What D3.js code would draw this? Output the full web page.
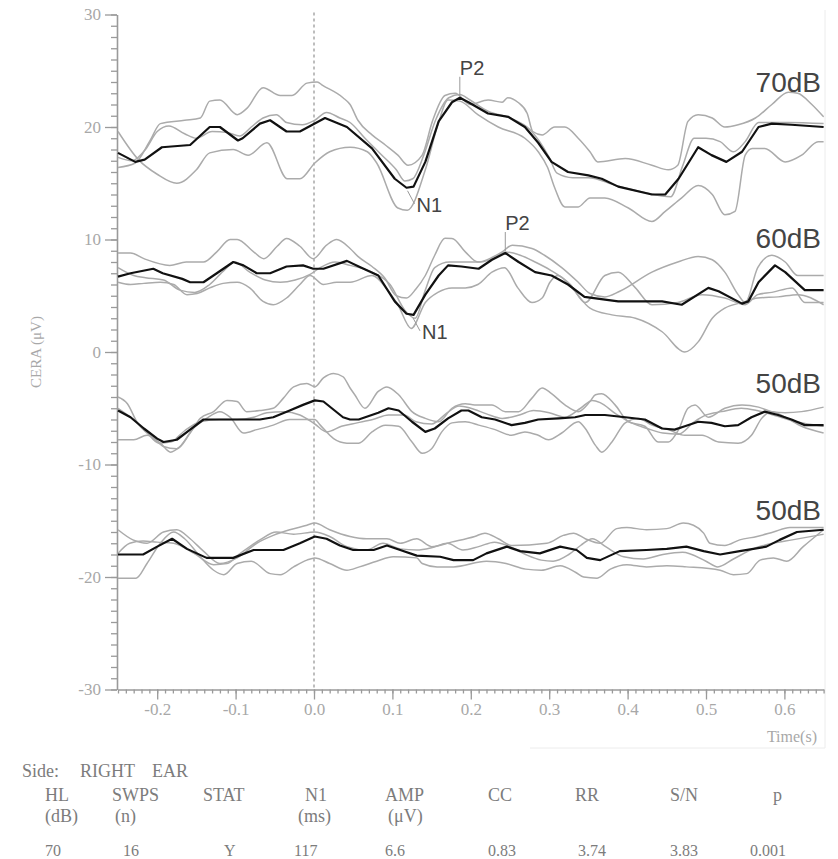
<!DOCTYPE html>
<html>
<head>
<meta charset="utf-8">
<script src="https://cdn.jsdelivr.net/npm/d3@7"></script>
<style>
  body { margin: 0; background: #fff; }
  svg { display: block; }
  .tick text { font-family: "Liberation Serif", serif; font-size: 17px; fill: #a8a8a8; }
  .axis path, .axis line { stroke: #9a9a9a; stroke-width: 1.3; }
  .axis .domain { stroke-width: 1.6; }
  .rep { fill: none; stroke: #ababab; stroke-width: 1.5; }
  .avg { fill: none; stroke: #111; stroke-width: 2.2; stroke-linejoin: round; }
  .level { font-family: "Liberation Sans", Arial, sans-serif; font-size: 28px; fill: #444; }
  .peak { font-family: "Liberation Sans", Arial, sans-serif; font-size: 20px; fill: #444; }
  .lead { stroke: #999; stroke-width: 1; }
  .tbl { font-family: "Liberation Serif", serif; font-size: 18px; fill: #7c7c7c; }
  .val { font-size: 16px; }
</style>
</head>
<body>
<script>
// ---- data (time in s, amplitude in uV) ----
const xTicks = [-0.2, -0.1, 0.0, 0.1, 0.2, 0.3, 0.4, 0.5, 0.6];
const yTicks = [-30, -20, -10, 0, 10, 20, 30];
const levels = ["70dB", "60dB", "50dB", "50dB"];

// 70 dB
const avg70 = [[-0.25,17.7],[-0.228,16.9],[-0.216,17.1],[-0.194,18.2],[-0.158,18.4],[-0.133,20.0],[-0.120,20.0],[-0.097,18.8],[-0.091,19.0],[-0.069,20.3],[-0.056,20.6],[-0.035,19.6],[-0.018,19.6],[0.014,20.8],[0.042,20.0],[0.074,18.1],[0.103,15.4],[0.118,14.6],[0.127,14.7],[0.142,16.9],[0.159,20.5],[0.176,22.2],[0.186,22.6],[0.197,22.2],[0.222,21.2],[0.248,20.9],[0.269,20.0],[0.286,18.6],[0.303,16.9],[0.324,16.0],[0.350,15.7],[0.367,15.4],[0.388,14.7],[0.431,14.0],[0.448,14.0],[0.465,15.4],[0.490,18.2],[0.507,17.5],[0.526,16.9],[0.546,17.8],[0.567,20.0],[0.584,20.3],[0.609,20.2],[0.650,20.0]];
const rep70a = [[-0.25,16.4],[-0.228,16.8],[-0.209,18.8],[-0.196,20.3],[-0.165,20.6],[-0.145,20.8],[-0.133,22.3],[-0.120,22.4],[-0.098,21.1],[-0.085,21.7],[-0.065,23.5],[-0.043,22.8],[-0.028,22.8],[-0.009,23.9],[0.004,24.0],[0.011,23.7],[0.037,22.6],[0.046,22.0],[0.056,20.6],[0.074,19.3],[0.091,18.4],[0.107,17.5],[0.120,16.6],[0.138,17.5],[0.151,20.5],[0.167,22.8],[0.180,23.0],[0.199,22.0],[0.222,22.4],[0.240,22.2],[0.247,22.6],[0.260,22.2],[0.272,21.2],[0.279,19.6],[0.291,19.3],[0.307,20.0],[0.320,20.0],[0.337,19.0],[0.352,17.8],[0.362,16.9],[0.397,17.2],[0.431,16.6],[0.452,16.2],[0.464,16.6],[0.477,20.5],[0.490,21.1],[0.508,20.8],[0.524,20.0],[0.541,20.2],[0.563,20.8],[0.584,22.0],[0.605,23.1],[0.617,23.0],[0.635,22.0],[0.650,20.9]];
const rep70b = [[-0.25,19.6],[-0.224,17.1],[-0.200,15.8],[-0.175,15.0],[-0.150,16.2],[-0.133,17.7],[-0.103,18.0],[-0.084,17.5],[-0.060,18.6],[-0.034,15.4],[-0.018,15.4],[0.001,16.8],[0.020,17.8],[0.046,18.2],[0.068,17.8],[0.080,16.8],[0.107,12.8],[0.119,12.6],[0.142,16.2],[0.158,20.2],[0.171,22.4],[0.186,22.3],[0.209,21.1],[0.235,20.0],[0.269,19.0],[0.286,17.8],[0.298,16.4],[0.307,14.6],[0.320,12.9],[0.337,12.9],[0.352,13.7],[0.371,13.7],[0.401,12.8],[0.431,11.6],[0.448,12.5],[0.469,13.7],[0.490,14.8],[0.508,14.0],[0.524,12.2],[0.537,12.5],[0.550,17.5],[0.559,18.1],[0.575,18.1],[0.601,16.9],[0.622,17.5],[0.643,18.7],[0.650,18.7]];
const rep70c = [[-0.25,17.3],[-0.232,17.0],[-0.215,18.0],[-0.200,19.6],[-0.185,20.1],[-0.165,19.4],[-0.150,19.0],[-0.130,19.6],[-0.110,19.5],[-0.095,19.2],[-0.080,20.0],[-0.065,20.8],[-0.048,21.1],[-0.035,20.4],[-0.015,20.2],[0.001,20.6],[0.016,21.3],[0.033,20.8],[0.046,20.4],[0.065,19.0],[0.085,17.6],[0.105,16.2],[0.116,15.2],[0.126,15.4],[0.140,17.5],[0.155,20.6],[0.172,22.6],[0.186,22.9],[0.199,22.4],[0.222,21.4],[0.250,20.8],[0.275,19.8],[0.300,17.3],[0.310,15.9],[0.330,15.5],[0.350,15.5],[0.385,14.8],[0.420,14.2],[0.455,13.8],[0.470,16.5],[0.485,19.0],[0.500,19.0],[0.518,18.7],[0.535,17.8],[0.550,18.7],[0.567,20.4],[0.605,20.4],[0.650,20.3]];

// 60 dB
const avg60 = [[-0.25,6.7],[-0.234,7.0],[-0.205,7.4],[-0.193,7.0],[-0.168,6.5],[-0.158,6.2],[-0.141,6.2],[-0.124,7.0],[-0.103,8.0],[-0.090,7.7],[-0.073,7.0],[-0.056,7.0],[-0.035,7.6],[-0.014,7.7],[-0.001,7.4],[0.012,7.4],[0.042,8.1],[0.057,7.6],[0.082,6.8],[0.103,4.5],[0.118,3.4],[0.127,3.3],[0.142,5.1],[0.159,6.8],[0.171,7.7],[0.188,7.6],[0.210,7.4],[0.227,8.2],[0.244,8.8],[0.261,8.0],[0.282,7.1],[0.303,6.8],[0.324,6.0],[0.345,4.9],[0.388,4.5],[0.444,4.5],[0.469,4.2],[0.503,5.7],[0.516,5.4],[0.546,4.3],[0.554,4.5],[0.567,6.2],[0.588,7.7],[0.601,7.1],[0.626,5.5],[0.650,5.5]];
const rep60a = [[-0.25,8.8],[-0.234,8.8],[-0.217,8.3],[-0.184,7.7],[-0.163,8.0],[-0.141,8.0],[-0.124,8.9],[-0.107,10.0],[-0.098,10.0],[-0.077,8.9],[-0.064,8.3],[-0.047,9.4],[-0.035,10.1],[-0.018,9.4],[-0.001,8.3],[0.016,9.5],[0.029,10.0],[0.046,9.2],[0.056,8.5],[0.074,7.6],[0.090,6.6],[0.105,5.0],[0.118,4.8],[0.130,5.6],[0.142,6.8],[0.154,8.6],[0.167,10.1],[0.176,10.1],[0.193,8.9],[0.209,8.0],[0.227,8.4],[0.240,8.9],[0.253,9.5],[0.278,9.2],[0.294,8.6],[0.316,7.5],[0.337,6.2],[0.352,5.2],[0.371,4.9],[0.390,5.4],[0.431,7.1],[0.464,8.0],[0.490,8.5],[0.508,8.2],[0.524,7.1],[0.541,5.1],[0.550,4.4],[0.566,7.5],[0.584,8.6],[0.601,8.0],[0.617,6.8],[0.650,6.8]];
const rep60b = [[-0.25,6.2],[-0.234,6.0],[-0.217,6.1],[-0.196,6.2],[-0.179,6.0],[-0.162,5.1],[-0.149,5.2],[-0.133,5.7],[-0.116,6.1],[-0.098,6.2],[-0.082,5.7],[-0.065,4.5],[-0.052,4.2],[-0.035,4.8],[-0.018,6.0],[-0.005,6.8],[0.012,6.0],[0.029,6.2],[0.046,6.2],[0.074,6.8],[0.094,5.5],[0.107,4.2],[0.124,2.1],[0.142,4.4],[0.158,5.3],[0.176,5.7],[0.193,5.7],[0.209,6.0],[0.227,7.1],[0.243,7.5],[0.260,5.7],[0.278,4.4],[0.291,4.8],[0.301,6.2],[0.311,6.8],[0.329,5.7],[0.352,3.9],[0.380,3.3],[0.410,3.0],[0.444,1.8],[0.473,0.0],[0.490,0.9],[0.508,3.0],[0.524,3.9],[0.546,4.4],[0.566,4.8],[0.592,4.9],[0.617,5.1],[0.650,4.2]];
const rep60c = [[-0.25,7.5],[-0.230,6.8],[-0.215,6.6],[-0.192,6.4],[-0.171,5.5],[-0.152,5.3],[-0.133,6.0],[-0.114,7.3],[-0.101,8.0],[-0.082,7.1],[-0.062,6.4],[-0.043,6.2],[-0.024,6.4],[-0.005,6.9],[0.008,7.5],[0.027,8.0],[0.046,7.7],[0.074,7.1],[0.097,6.0],[0.116,3.7],[0.129,3.0],[0.142,5.5],[0.154,7.5],[0.173,8.0],[0.212,8.0],[0.231,8.4],[0.244,8.9],[0.263,8.6],[0.282,8.0],[0.301,7.3],[0.327,6.0],[0.346,4.4],[0.371,6.8],[0.388,7.1],[0.410,5.7],[0.431,4.2],[0.464,4.4],[0.495,5.1],[0.524,4.8],[0.550,4.2],[0.566,5.1],[0.584,5.3],[0.610,5.7],[0.626,4.4],[0.650,4.4]];

// 50 dB (upper trace set)
const avg50a = [[-0.25,-5.2],[-0.234,-5.8],[-0.217,-6.8],[-0.200,-7.7],[-0.192,-8.0],[-0.175,-7.8],[-0.158,-6.9],[-0.141,-6.0],[-0.124,-6.0],[-0.103,-6.0],[-0.069,-6.0],[-0.052,-5.8],[-0.031,-5.2],[-0.014,-4.7],[0.001,-4.3],[0.012,-4.4],[0.037,-5.8],[0.046,-6.0],[0.057,-6.0],[0.082,-5.4],[0.095,-5.0],[0.108,-5.2],[0.125,-6.2],[0.142,-7.1],[0.154,-6.8],[0.171,-5.9],[0.188,-5.2],[0.197,-5.2],[0.214,-5.8],[0.231,-6.0],[0.252,-6.5],[0.269,-6.3],[0.286,-6.0],[0.312,-5.9],[0.333,-5.8],[0.346,-5.6],[0.371,-5.6],[0.397,-5.8],[0.422,-6.0],[0.444,-6.8],[0.460,-6.9],[0.473,-6.6],[0.490,-6.2],[0.507,-6.3],[0.524,-6.6],[0.541,-6.5],[0.558,-5.8],[0.575,-5.3],[0.592,-5.6],[0.609,-6.0],[0.626,-6.5],[0.650,-6.5]];
const rep50a1 = [[-0.25,-4.0],[-0.238,-4.6],[-0.226,-6.2],[-0.204,-7.7],[-0.192,-8.4],[-0.175,-8.6],[-0.158,-7.2],[-0.145,-5.9],[-0.128,-5.3],[-0.111,-4.3],[-0.098,-4.4],[-0.086,-5.3],[-0.069,-5.2],[-0.052,-5.0],[-0.039,-4.1],[-0.026,-3.1],[-0.009,-2.8],[0.001,-3.1],[0.012,-2.3],[0.025,-1.9],[0.037,-2.2],[0.046,-3.2],[0.052,-3.8],[0.065,-5.0],[0.082,-3.5],[0.093,-3.1],[0.108,-3.8],[0.125,-5.3],[0.142,-5.9],[0.159,-6.2],[0.176,-5.0],[0.193,-4.6],[0.205,-4.7],[0.227,-4.7],[0.244,-5.3],[0.261,-5.3],[0.278,-4.1],[0.291,-3.2],[0.303,-3.7],[0.320,-4.7],[0.337,-5.3],[0.352,-4.4],[0.359,-3.8],[0.367,-3.7],[0.384,-4.7],[0.401,-6.2],[0.422,-6.6],[0.439,-8.0],[0.452,-8.0],[0.465,-6.9],[0.477,-5.0],[0.486,-4.7],[0.503,-5.8],[0.524,-5.0],[0.546,-4.7],[0.567,-4.9],[0.584,-5.3],[0.601,-5.4],[0.622,-5.3],[0.650,-4.9]];
const rep50a2 = [[-0.25,-7.8],[-0.230,-7.8],[-0.213,-7.4],[-0.196,-8.1],[-0.183,-8.9],[-0.171,-8.4],[-0.154,-6.8],[-0.137,-5.9],[-0.120,-5.3],[-0.107,-5.8],[-0.090,-7.2],[-0.073,-6.9],[-0.052,-6.5],[-0.031,-6.0],[0.001,-6.0],[0.008,-6.5],[0.025,-7.7],[0.042,-8.1],[0.057,-8.1],[0.074,-7.1],[0.091,-6.5],[0.108,-6.6],[0.125,-8.0],[0.138,-9.0],[0.150,-8.6],[0.163,-7.1],[0.176,-6.3],[0.193,-6.2],[0.210,-6.5],[0.231,-6.9],[0.252,-7.4],[0.269,-7.1],[0.286,-7.4],[0.299,-7.8],[0.316,-7.2],[0.337,-6.2],[0.346,-6.8],[0.359,-8.3],[0.367,-8.9],[0.380,-8.0],[0.397,-6.3],[0.414,-5.9],[0.431,-6.5],[0.452,-6.9],[0.473,-7.4],[0.495,-7.4],[0.516,-8.0],[0.541,-8.1],[0.558,-7.4],[0.571,-5.9],[0.584,-5.3],[0.601,-5.8],[0.622,-6.6],[0.650,-7.2]];
const rep50a3 = [[-0.25,-5.0],[-0.234,-5.8],[-0.215,-7.0],[-0.198,-8.1],[-0.183,-8.0],[-0.165,-7.0],[-0.145,-6.2],[-0.120,-6.0],[-0.098,-6.0],[-0.077,-5.8],[-0.060,-5.4],[-0.039,-5.3],[-0.018,-5.6],[0.001,-6.4],[0.016,-7.1],[0.035,-6.6],[0.055,-6.3],[0.075,-6.0],[0.095,-5.6],[0.115,-5.6],[0.130,-6.2],[0.150,-6.4],[0.170,-5.4],[0.185,-4.8],[0.200,-5.0],[0.220,-5.5],[0.240,-5.9],[0.262,-5.6],[0.280,-5.2],[0.300,-5.4],[0.320,-5.8],[0.340,-5.0],[0.355,-4.3],[0.365,-4.5],[0.385,-5.5],[0.405,-6.3],[0.425,-6.8],[0.445,-7.2],[0.465,-7.3],[0.485,-6.2],[0.500,-5.6],[0.520,-5.3],[0.545,-5.0],[0.565,-5.2],[0.590,-5.7],[0.615,-6.2],[0.650,-6.6]];

// 50 dB (lower trace set)
const avg50b = [[-0.25,-18.0],[-0.218,-18.0],[-0.200,-17.3],[-0.181,-16.6],[-0.162,-17.5],[-0.137,-18.3],[-0.103,-18.3],[-0.077,-17.6],[-0.039,-17.6],[-0.018,-17.0],[0.001,-16.4],[0.016,-16.6],[0.033,-17.2],[0.050,-17.6],[0.076,-17.6],[0.093,-17.2],[0.110,-17.6],[0.131,-18.1],[0.161,-18.2],[0.178,-18.5],[0.203,-18.5],[0.220,-17.9],[0.246,-17.3],[0.263,-17.7],[0.288,-17.9],[0.314,-17.3],[0.335,-17.6],[0.348,-18.3],[0.365,-18.5],[0.390,-17.7],[0.424,-17.6],[0.450,-17.5],[0.475,-17.3],[0.497,-17.7],[0.518,-18.0],[0.543,-17.7],[0.577,-17.3],[0.594,-16.7],[0.616,-16.0],[0.650,-15.8]];
const rep50b1 = [[-0.25,-15.8],[-0.231,-16.7],[-0.213,-17.0],[-0.192,-16.0],[-0.175,-15.8],[-0.158,-16.6],[-0.141,-17.7],[-0.120,-18.8],[-0.098,-18.3],[-0.073,-17.0],[-0.052,-16.3],[-0.031,-15.8],[-0.009,-15.4],[0.001,-15.2],[0.020,-15.8],[0.046,-16.4],[0.067,-16.6],[0.093,-16.6],[0.110,-17.0],[0.131,-16.6],[0.150,-17.3],[0.175,-16.9],[0.205,-16.4],[0.218,-16.1],[0.235,-16.6],[0.252,-17.2],[0.297,-17.0],[0.318,-16.3],[0.331,-16.1],[0.346,-16.6],[0.365,-17.0],[0.386,-15.7],[0.399,-15.6],[0.424,-15.8],[0.450,-15.7],[0.471,-15.2],[0.484,-15.4],[0.497,-16.1],[0.505,-17.0],[0.524,-17.2],[0.543,-16.7],[0.565,-16.4],[0.586,-16.0],[0.607,-15.6],[0.650,-15.6]];
const rep50b2 = [[-0.25,-20.1],[-0.227,-20.1],[-0.213,-18.8],[-0.196,-17.0],[-0.179,-16.0],[-0.165,-16.6],[-0.145,-18.2],[-0.128,-19.4],[-0.115,-19.8],[-0.098,-18.8],[-0.080,-18.6],[-0.056,-19.7],[-0.043,-19.8],[-0.026,-19.1],[-0.009,-18.5],[0.001,-18.3],[0.020,-18.8],[0.042,-19.4],[0.058,-19.1],[0.080,-18.6],[0.101,-18.2],[0.131,-18.3],[0.138,-18.8],[0.157,-19.1],[0.178,-19.1],[0.220,-18.6],[0.245,-18.8],[0.270,-19.3],[0.290,-19.4],[0.314,-19.0],[0.334,-19.6],[0.344,-20.0],[0.361,-20.1],[0.378,-19.3],[0.399,-18.9],[0.424,-19.1],[0.450,-19.0],[0.475,-19.1],[0.518,-19.4],[0.535,-19.8],[0.552,-19.7],[0.569,-18.5],[0.586,-18.3],[0.603,-18.6],[0.624,-17.3],[0.650,-15.8]];
const rep50b3 = [[-0.25,-17.9],[-0.235,-17.0],[-0.218,-16.8],[-0.200,-16.9],[-0.179,-17.0],[-0.153,-17.9],[-0.128,-18.9],[-0.111,-18.8],[-0.094,-17.9],[-0.069,-16.7],[-0.048,-16.0],[-0.026,-16.2],[0.001,-16.0],[0.020,-16.4],[0.042,-17.3],[0.067,-17.6],[0.088,-17.0],[0.110,-17.5],[0.131,-17.6],[0.150,-17.4],[0.170,-17.0],[0.190,-17.6],[0.210,-17.3],[0.230,-16.9],[0.250,-17.3],[0.270,-18.0],[0.290,-18.5],[0.305,-18.6],[0.325,-18.0],[0.340,-17.2],[0.355,-16.6],[0.372,-17.3],[0.395,-18.2],[0.420,-18.4],[0.445,-18.0],[0.470,-17.8],[0.500,-18.6],[0.515,-19.1],[0.535,-18.4],[0.560,-17.5],[0.585,-17.0],[0.610,-16.7],[0.650,-16.2]];

// peak markers: [time, uV]
const p2Marks = [[0.186, 22.6], [0.244, 8.8]];
const n1Marks = [[0.118, 14.6], [0.125, 3.3]];

// result table
const tableTitle = ["Side:", "RIGHT", "EAR"];
const colHead1 = ["HL", "SWPS", "STAT", "N1", "AMP", "CC", "RR", "S/N", "p"];
const colHead2 = ["(dB)", "(n)", "", "(ms)", "(\u03bcV)", "", "", "", ""];
const rowValues = ["70", "16", "Y", "117", "6.6", "0.83", "3.74", "3.83", "0.001"];

const groups = [
  {label: levels[0], avg: avg70, reps: [rep70a, rep70b, rep70c]},
  {label: levels[1], avg: avg60, reps: [rep60a, rep60b, rep60c]},
  {label: levels[2], avg: avg50a, reps: [rep50a1, rep50a2, rep50a3]},
  {label: levels[3], avg: avg50b, reps: [rep50b1, rep50b2, rep50b3]}
];

// ---- layout ----
const W = 838, H = 859;
const svg = d3.select("body").append("svg").attr("width", W).attr("height", H);

const x = d3.scaleLinear().domain([-0.25, 0.65]).range([118, 823.6]);
const y = d3.scaleLinear().domain([-30, 30]).range([689.5, 14.5]);

// faint frame remnants
svg.append("line").attr("x1", 825).attr("x2", 825).attr("y1", 10).attr("y2", 748)
    .attr("stroke", "#ececec");
svg.append("line").attr("x1", 530).attr("x2", 825).attr("y1", 748).attr("y2", 748)
    .attr("stroke", "#ececec");

// dashed stimulus line at t = 0
svg.append("line")
    .attr("x1", x(0)).attr("x2", x(0))
    .attr("y1", y(30) - 2).attr("y2", y(-30))
    .attr("stroke", "#9a9a9a").attr("stroke-width", 1.3)
    .attr("stroke-dasharray", "3,3");

// y axis: minor then major
svg.append("g").attr("class", "axis")
    .attr("transform", "translate(117,0)")
    .call(d3.axisLeft(y).tickValues(d3.range(-30, 31)).tickSize(6).tickFormat(""))
    .call(g => g.select(".domain").remove());
svg.append("g").attr("class", "axis")
    .attr("transform", "translate(117,0)")
    .call(d3.axisLeft(y).tickValues(yTicks).tickSize(12).tickSizeOuter(0)
        .tickPadding(4).tickFormat(d => String(d)));

// x axis: minor then major
svg.append("g").attr("class", "axis")
    .attr("transform", `translate(0,${y(-30)})`)
    .call(d3.axisBottom(x).tickValues(d3.range(-25, 66).map(i => i / 100)).tickSize(4).tickFormat(""))
    .call(g => g.select(".domain").remove());
svg.append("g").attr("class", "axis")
    .attr("transform", `translate(0,${y(-30)})`)
    .call(d3.axisBottom(x).tickValues(xTicks).tickSize(10).tickSizeOuter(0)
        .tickPadding(3).tickFormat(d => d.toFixed(1)));

svg.append("text")
    .attr("x", 817).attr("y", 742)
    .attr("text-anchor", "end")
    .style("font-family", "Liberation Serif, serif").style("font-size", "16px").style("fill", "#a8a8a8")
    .text("Time(s)");

svg.append("text")
    .attr("transform", "translate(41,352) rotate(-90)")
    .attr("text-anchor", "middle")
    .style("font-family", "Liberation Serif, serif").style("font-size", "15px").style("fill", "#a8a8a8")
    .text("CERA (\u03bcV)");

// traces
const lineRep = d3.line().x(d => x(d[0])).y(d => y(d[1])).curve(d3.curveMonotoneX);
const lineAvg = d3.line().x(d => x(d[0])).y(d => y(d[1]));

const gTrace = svg.selectAll(".trace").data(groups)
  .enter().append("g").attr("class", "trace");

gTrace.selectAll(".rep").data(d => d.reps)
  .enter().append("path").attr("class", "rep").attr("d", lineRep);

gTrace.append("path").attr("class", "avg")
    .datum(d => d.avg)
    .attr("d", lineAvg);

// level labels
const labelY = [92, 248, 393, 520];
svg.selectAll(".level").data(groups)
  .enter().append("text").attr("class", "level")
    .attr("x", 821).attr("y", (d, i) => labelY[i])
    .attr("text-anchor", "end")
    .text(d => d.label);

// P2 / N1 markers
p2Marks.forEach(d => {
  const px = x(d[0]), py = y(d[1]);
  svg.append("line").attr("class", "lead")
      .attr("x1", px).attr("x2", px).attr("y1", py - 2).attr("y2", py - 21);
  svg.append("text").attr("class", "peak").attr("x", px).attr("y", py - 23).text("P2");
});
n1Marks.forEach(d => {
  const px = x(d[0]), py = y(d[1]);
  svg.append("line").attr("class", "lead")
      .attr("x1", px + 1).attr("x2", px + 8).attr("y1", py + 3).attr("y2", py + 16);
  svg.append("text").attr("class", "peak").attr("x", px + 10).attr("y", py + 24).text("N1");
});

// table under the plot
const titleX = [22, 80, 152];
svg.selectAll(".ttl").data(tableTitle)
  .enter().append("text").attr("class", "tbl")
    .attr("x", (d, i) => titleX[i]).attr("y", 777).text(d => d);

const head1X = [45, 112, 203, 305, 385, 488, 575, 670, 773];
const head2X = [45, 115, 0, 298, 388, 0, 0, 0, 0];
const valX = [45, 123, 224, 294, 385, 488, 578, 670, 750];
svg.selectAll(".h1").data(colHead1)
  .enter().append("text").attr("class", "tbl")
    .attr("x", (d, i) => head1X[i]).attr("y", 801).text(d => d);
svg.selectAll(".h2").data(colHead2)
  .enter().append("text").attr("class", "tbl")
    .attr("x", (d, i) => head2X[i]).attr("y", 822).text(d => d);
svg.selectAll(".valtxt").data(rowValues)
  .enter().append("text").attr("class", "tbl val")
    .attr("x", (d, i) => valX[i]).attr("y", 856).text(d => d);
</script>
</body>
</html>
